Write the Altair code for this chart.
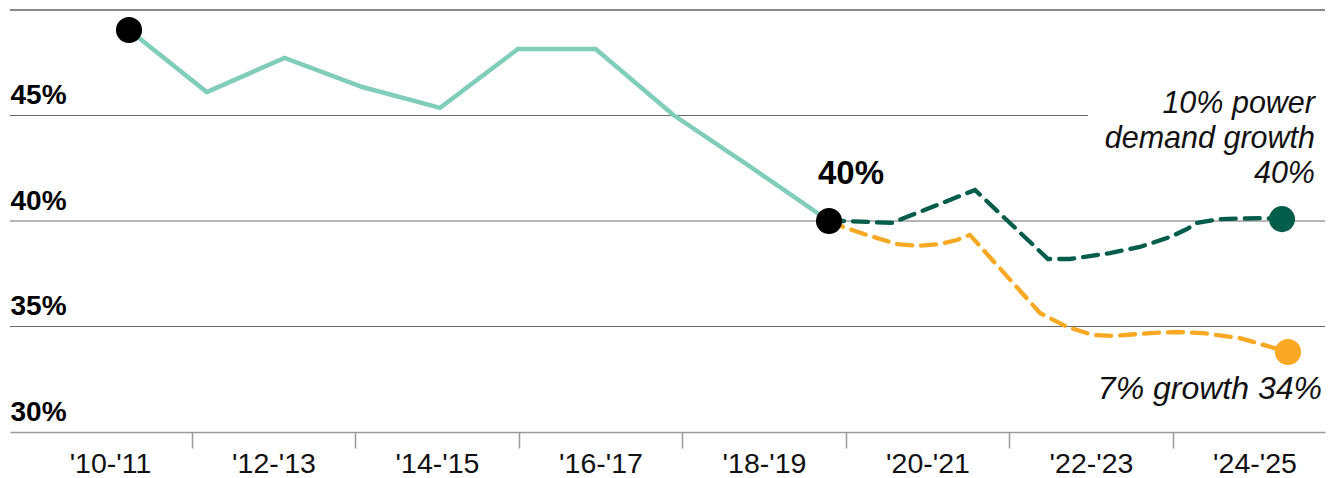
import altair as alt
import pandas as pd

# ---- data ----
# historical share ('10-'11 .. '19-'20)
hist_year = [2010, 2011, 2012, 2013, 2014, 2015, 2016, 2017, 2018, 2019]
hist_share = [49.05, 46.11, 47.73, 46.35, 45.36, 48.15, 48.15, 45.02, 42.54, 40.0]

# projection: 10% power demand growth
high_x = [2019.0, 2019.18, 2019.81, 2020.877, 2021.815, 2022.098, 2022.612, 2022.998,
          2023.384, 2023.602, 2023.731, 2024.027, 2024.58, 2024.824]
high_share = [40.0, 40.0, 39.91, 41.47, 38.20, 38.20, 38.48, 38.77,
              39.24, 39.62, 39.91, 40.09, 40.14, 40.09]

# projection: 7% growth
low_x = [2019.0, 2019.18, 2019.488, 2019.874, 2020.131, 2020.427, 2020.645, 2020.812,
         2021.712, 2022.06, 2022.394, 2022.651, 2023.127, 2023.474, 2023.808, 2024.284,
         2024.631, 2024.901]
low_share = [40.0, 39.72, 39.34, 38.91, 38.82, 38.91, 39.10, 39.34,
             35.64, 34.98, 34.60, 34.55, 34.69, 34.74, 34.69, 34.45,
             34.08, 33.79]

# axis
axis_years = list(range(2010, 2025))
period_labels = ["'10-'11", "'12-'13", "'14-'15", "'16-'17", "'18-'19",
                 "'20-'21", "'22-'23", "'24-'25"]
y_ticks = [30, 35, 40, 45]
grid_levels = [35, 40, 45]
grid_end = [2024.8624, 2024.8624, 2021.963]
top_level = [50]

AXIS_DOMAIN = [2008.7768, 2024.8624]
DATA_DOMAIN = [2008.470, 2025.377]
Y_DOMAIN = [30, 50]

TEAL = "#80cdb9"
GREEN = "#045c4b"
ORANGE = "#f8a822"
FONT = "Liberation Sans"

yscale = alt.Scale(domain=Y_DOMAIN, nice=False, zero=False)
xaxis_scale = alt.Scale(domain=AXIS_DOMAIN, nice=False, zero=False)
xdata_scale = alt.Scale(domain=DATA_DOMAIN, nice=False, zero=False)

label_map = "[" + ",".join('"' + l + '"' for l in period_labels) + "]"
label_expr = "datum.value % 2 == 0 ? " + label_map + "[(datum.value - 2010) / 2] : ''"

x_axis = alt.Axis(
    values=axis_years, title=None, grid=False,
    domain=True, domainColor="#9a9a9a", domainWidth=1.5,
    ticks=True, tickSize=16, tickColor="#9a9a9a", tickWidth=1.5,
    tickOpacity={"condition": {"test": "datum.value % 2 == 0", "value": 0}, "value": 1},
    labelExpr=label_expr,
    labelFont=FONT, labelFontSize=28.5, labelColor="#111111", labelPadding=1,
    labelFlush=False, labelOverlap=False, labelBound=False,
)
y_axis = alt.Axis(
    values=y_ticks, title=None, grid=False, domain=False, ticks=False, tickSize=0,
    labelExpr="datum.value + '%'", labelAlign="left", labelBaseline="alphabetic",
    labelPadding=0, labelOffset=-12, labelFont=FONT, labelFontWeight="bold",
    labelFontSize=28, labelColor="#000000", labelFlush=False, labelOverlap=False,
)

grid_df = pd.DataFrame({"level": grid_levels, "start": [AXIS_DOMAIN[0]] * len(grid_levels),
                        "end": grid_end})
top_df = pd.DataFrame({"level": top_level, "start": [AXIS_DOMAIN[0]], "end": [AXIS_DOMAIN[1]]})

grid = alt.Chart(grid_df).mark_rule(color="#6a6a6a", strokeWidth=1.2).encode(
    x=alt.X("start:Q", scale=xaxis_scale, axis=x_axis),
    x2="end:Q",
    y=alt.Y("level:Q", scale=yscale, axis=y_axis),
)
top = alt.Chart(top_df).mark_rule(color="#8a8a8a", strokeWidth=2.2).encode(
    x=alt.X("start:Q", scale=xaxis_scale, axis=x_axis),
    x2="end:Q",
    y=alt.Y("level:Q", scale=yscale, axis=y_axis),
)
axis_group = alt.layer(grid, top)

hist_df = pd.DataFrame({"year": hist_year, "share": hist_share})
high_df = pd.DataFrame({"year": high_x, "share": high_share})
low_df = pd.DataFrame({"year": low_x, "share": low_share})


def enc(ch):
    return ch.encode(
        x=alt.X("year:Q", scale=xdata_scale, axis=None),
        y=alt.Y("share:Q", scale=yscale, axis=None),
    )


hist = enc(alt.Chart(hist_df).mark_line(color=TEAL, strokeWidth=4.5))
low = enc(alt.Chart(low_df).mark_line(color=ORANGE, strokeWidth=4.3, strokeDash=[15, 9], strokeCap="round"))
high = enc(alt.Chart(high_df).mark_line(color=GREEN, strokeWidth=4.3, strokeDash=[15, 9], strokeCap="round"))

dots_df = pd.DataFrame({
    "year": [hist_year[0], hist_year[-1], high_x[-1], low_x[-1]],
    "share": [hist_share[0], hist_share[-1], high_share[-1], low_share[-1]],
    "kind": ["past", "past", "high", "low"],
})
dots = alt.Chart(dots_df).mark_circle(size=680, opacity=1).encode(
    x=alt.X("year:Q", scale=xdata_scale, axis=None),
    y=alt.Y("share:Q", scale=yscale, axis=None),
    color=alt.Color("kind:N", scale=alt.Scale(domain=["past", "high", "low"],
                                              range=["#000000", GREEN, ORANGE]), legend=None),
)

t40 = alt.Chart(pd.DataFrame({"year": [hist_year[-1]], "share": [hist_share[-1]], "label": ["40%"]})).mark_text(
    font=FONT, fontWeight="bold", fontSize=33, align="center", baseline="alphabetic", dx=22, dy=-37, color="#000"
).encode(x=alt.X("year:Q", scale=xdata_scale, axis=None), y=alt.Y("share:Q", scale=yscale, axis=None), text="label:N")

thigh = alt.Chart(pd.DataFrame({"year": [high_x[-1]], "share": [high_share[-1]],
                                "label": ["10% power\ndemand growth\n40%"]})).mark_text(
    font=FONT, fontStyle="italic", fontSize=30.5, align="right", baseline="alphabetic",
    lineBreak="\n", lineHeight=35, dx=33, dy=-106, color="#111"
).encode(x=alt.X("year:Q", scale=xdata_scale, axis=None), y=alt.Y("share:Q", scale=yscale, axis=None), text="label:N")

tlow = alt.Chart(pd.DataFrame({"year": [low_x[-1]], "share": [low_share[-1]],
                               "label": ["7% growth 34%"]})).mark_text(
    font=FONT, fontStyle="italic", fontSize=32, align="right", baseline="alphabetic",
    dx=34, dy=47, color="#111"
).encode(x=alt.X("year:Q", scale=xdata_scale, axis=None), y=alt.Y("share:Q", scale=yscale, axis=None), text="label:N")

data_group = alt.layer(hist, low, high, dots, t40, thigh, tlow)

chart = alt.layer(axis_group, data_group).resolve_scale(x="independent").resolve_axis(
    x="independent", y="independent"
).properties(
    width=1315, height=422,
    padding={"left": 2, "top": 2, "right": 3, "bottom": 46},
    autosize=alt.AutoSizeParams(type="none"),
    background="white",
).configure_view(stroke=None)

chart.save("out.html", embed_options={"renderer": "svg", "actions": False})
